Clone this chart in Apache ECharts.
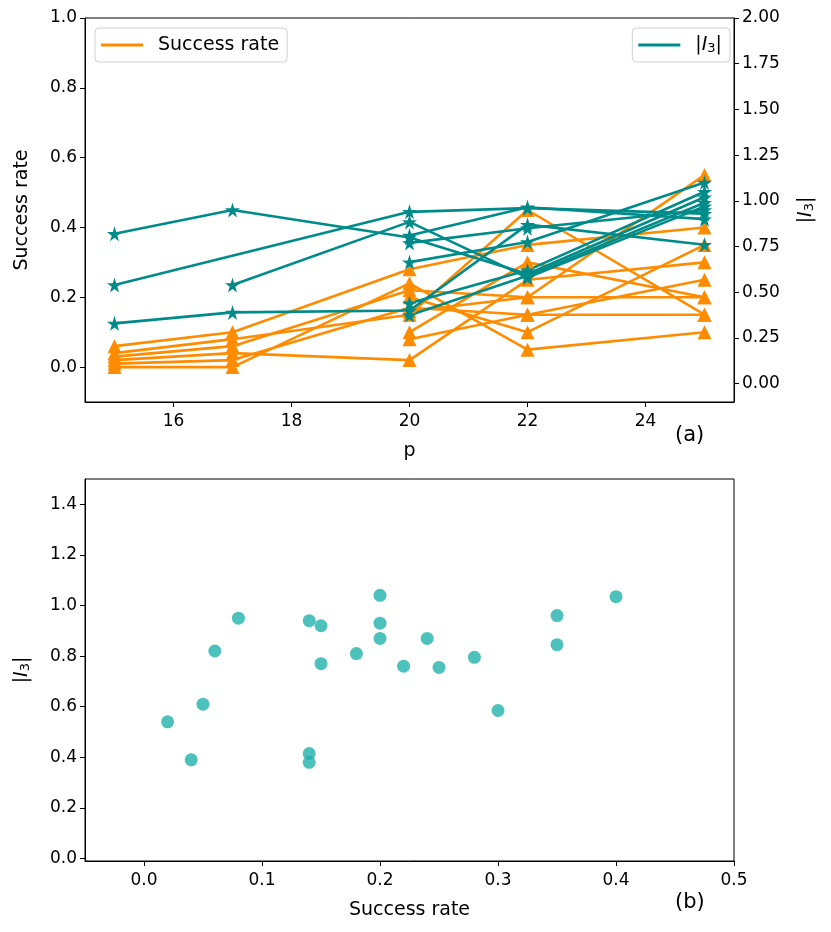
<!DOCTYPE html>
<html>
<head>
<meta charset="utf-8">
<script src="https://cdn.jsdelivr.net/npm/echarts@6/dist/echarts.min.js"></script>
<style>
  html, body { margin: 0; padding: 0; background: #fff; }
  #chart { width: 831px; height: 932px; }
</style>
</head>
<body>
<div id="chart"></div>
<script>
// p values (x of panel a)
var pValues = [15, 17, 20, 22, 25];

// success rate per instance, one row per line (null = not measured)
var successRows = [
    [0.06, 0.10, 0.28, 0.35, 0.40],
    [0.04, 0.08, 0.15, 0.45, 0.15],
    [0.02, 0.04, 0.02, 0.25, 0.30],
    [0.00, 0.00, 0.24, 0.05, 0.10],
    [0.03, 0.06, 0.22, 0.20, 0.55],
    [0.01, 0.02, 0.17, 0.15, 0.15],
    [null, null, 0.10, 0.30, 0.20],
    [null, null, 0.08, 0.15, 0.25],
    [null, null, 0.20, 0.10, 0.35],
    [null, null, 0.16, 0.20, 0.20]
];

// |I3| per instance
var i3Rows = [
    [0.82, 0.95, 0.80, 0.60, 1.02],
    [0.54, null, 0.94, 0.96, 0.93],
    [null, 0.54, 0.885, 0.58, 0.97],
    [0.33, 0.39, 0.40, 0.87, 0.76],
    [null, null, 0.77, 0.85, 0.95],
    [null, null, 0.665, 0.775, 1.10],
    [null, null, 0.44, 0.62, 1.05],
    [null, null, 0.375, 0.59, 0.99],
    [null, null, 0.81, 0.965, 0.90]
];

// panel b: success rate vs |I3|
var scatterSuccess = [0.02, 0.04, 0.05, 0.06, 0.08, 0.14, 0.14, 0.14, 0.15, 0.15, 0.18,
                      0.20, 0.20, 0.20, 0.22, 0.24, 0.25, 0.28, 0.30, 0.35, 0.35, 0.40];
var scatterI3 = [0.54, 0.39, 0.61, 0.82, 0.95, 0.94, 0.415, 0.38, 0.92, 0.77, 0.81,
                 1.04, 0.93, 0.87, 0.76, 0.87, 0.755, 0.795, 0.585, 0.96, 0.845, 1.035];

// tick labels
var pTicks = [16, 18, 20, 22, 24];
var successTicks = [0.0, 0.2, 0.4, 0.6, 0.8, 1.0];
var i3Ticks = [0.00, 0.25, 0.50, 0.75, 1.00, 1.25, 1.50, 1.75, 2.00];
var bxTicks = [0.0, 0.1, 0.2, 0.3, 0.4, 0.5];
var byTicks = [0.0, 0.2, 0.4, 0.6, 0.8, 1.0, 1.2, 1.4];

var ORANGE = '#ff8c00';
var TEAL = '#008b8b';
var SEA = '#20b2aa';
var FONT = 'DejaVu Sans';
var TICK_SIZE = 17;
var WORD_SIZE = 19;
var STAR = 'path://M50,0 L61,35 L98,35 L68,57 L79,91 L50,70 L21,91 L32,57 L2,35 L39,35 Z';

// rich styles for |I_3|
var i3Rich = {
    it: { fontFamily: FONT, fontStyle: 'italic', fontSize: WORD_SIZE, color: '#000' },
    sub: { fontFamily: FONT, fontSize: 13, color: '#000', padding: [7, 0, 0, 0] }
};

function toPairs(row) {
    var out = [];
    row.forEach(function (v, i) {
        if (v !== null) out.push([pValues[i], v]);
    });
    return out;
}

function axisBase(ticks, digits, isX) {
    return {
        axisLine: { show: true, onZero: false, lineStyle: { color: '#000', width: 1 } },
        axisTick: { show: true, inside: false, length: 5, lineStyle: { color: '#000' }, customValues: ticks },
        axisLabel: {
            color: '#000', fontFamily: FONT, fontSize: TICK_SIZE, margin: isX ? 11 : 8,
            customValues: ticks,
            formatter: function (v) { return v.toFixed(digits); }
        },
        splitLine: { show: false },
        nameTextStyle: { color: '#000', fontFamily: FONT, fontSize: WORD_SIZE, rich: i3Rich }
    };
}

var series = [];
successRows.forEach(function (row) {
    series.push({
        name: 'Success rate', type: 'line', xAxisIndex: 0, yAxisIndex: 0,
        data: toPairs(row),
        symbol: 'triangle', symbolSize: 14, showSymbol: true,
        lineStyle: { color: ORANGE, width: 2.6 },
        itemStyle: { color: ORANGE },
        emphasis: { disabled: true }, animation: false
    });
});
i3Rows.forEach(function (row) {
    series.push({
        name: '|I3|', type: 'line', xAxisIndex: 0, yAxisIndex: 1,
        data: toPairs(row),
        symbol: STAR, symbolSize: 15, showSymbol: true,
        lineStyle: { color: TEAL, width: 2.6 },
        itemStyle: { color: TEAL },
        emphasis: { disabled: true }, animation: false
    });
});
series.push({
    type: 'scatter', xAxisIndex: 1, yAxisIndex: 2,
    data: scatterSuccess.map(function (s, i) { return [s, scatterI3[i]]; }),
    symbol: 'circle', symbolSize: 13,
    itemStyle: { color: SEA },
    animation: false
});

var legendBox = {
    top: 28, orient: 'vertical',
    backgroundColor: '#fff', borderColor: '#d0d0d0', borderWidth: 1, borderRadius: 4,
    padding: [6, 8, 6, 6],
    itemWidth: 42, itemHeight: 3, icon: 'rect',
    textStyle: {
        color: '#000', fontFamily: FONT, fontSize: WORD_SIZE, lineHeight: 22,
        padding: [0, 0, 0, 10],
        rich: i3Rich
    },
    formatter: function (n) { return n === '|I3|' ? '|{it|I}{sub|3}|' : n; }
};

var option = {
    backgroundColor: '#fff',
    animation: false,
    grid: [
        { left: 85, top: 18, width: 649, height: 384, show: true, borderColor: '#000', borderWidth: 1 },
        { left: 85, top: 479, width: 649, height: 382, show: true, borderColor: '#000', borderWidth: 1 }
    ],
    legend: [
        Object.assign({}, legendBox, { left: 95, data: ['Success rate'] }),
        Object.assign({}, legendBox, { right: 101, data: ['|I3|'] })
    ],
    xAxis: [
        Object.assign(axisBase(pTicks, 0, true), {
            type: 'value', gridIndex: 0, min: 14.5, max: 25.5,
            name: 'p', nameLocation: 'middle', nameGap: 40
        }),
        Object.assign(axisBase(bxTicks, 1, true), {
            type: 'value', gridIndex: 1, min: -0.05, max: 0.5,
            name: 'Success rate', nameLocation: 'middle', nameGap: 40
        })
    ],
    yAxis: [
        Object.assign(axisBase(successTicks, 1, false), {
            type: 'value', gridIndex: 0, min: -0.1, max: 1.0, position: 'left',
            name: 'Success rate', nameLocation: 'middle', nameGap: 53
        }),
        Object.assign(axisBase(i3Ticks, 2, false), {
            type: 'value', gridIndex: 0, min: -0.1, max: 2.0, position: 'right',
            name: '|{it|I}{sub|3}|', nameLocation: 'middle', nameGap: 62, nameRotate: 90
        }),
        Object.assign(axisBase(byTicks, 1, false), {
            type: 'value', gridIndex: 1, min: -0.01, max: 1.5, position: 'left',
            name: '|{it|I}{sub|3}|', nameLocation: 'middle', nameGap: 53
        })
    ],
    graphic: [
        { type: 'text', left: 675, top: 425, style: { text: '(a)', font: '21px "DejaVu Sans"', fill: '#000' } },
        { type: 'text', left: 675, top: 892, style: { text: '(b)', font: '21px "DejaVu Sans"', fill: '#000' } }
    ],
    series: series
};

var myChart = echarts.init(document.getElementById('chart'), null, { renderer: 'canvas' });
myChart.setOption(option);
</script>
</body>
</html>
